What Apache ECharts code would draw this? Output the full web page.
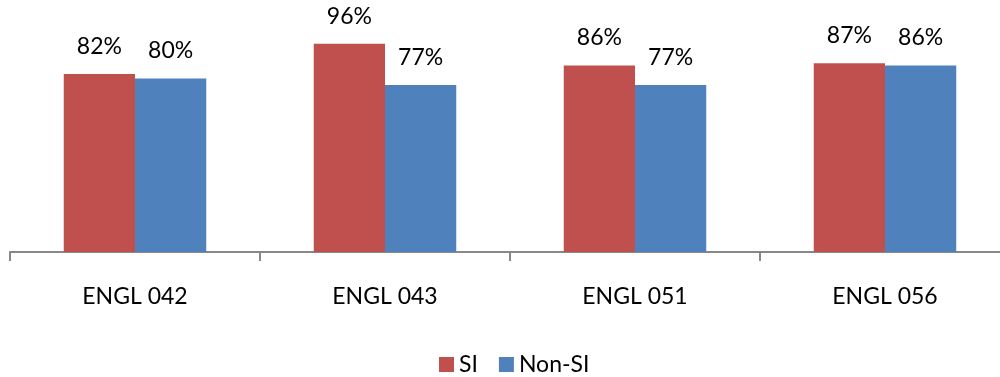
<!DOCTYPE html>
<html>
<head>
<meta charset="utf-8">
<script src="https://cdn.jsdelivr.net/npm/echarts@6/dist/echarts.min.js"></script>
<style>html,body{margin:0;padding:0;background:#fff;overflow:hidden;width:1000px;height:377px}#c{width:1010px;height:377px}</style>
</head>
<body>
<div id="c"></div>
<script>
const categories = ['ENGL 042', 'ENGL 043', 'ENGL 051', 'ENGL 056'];
const siValues = [82, 96, 86, 87];
const nonSiValues = [80, 77, 77, 86];
const seriesNames = ['SI', 'Non-SI'];

const font = 'Lato, "Open Sans", sans-serif';
const chart = echarts.init(document.getElementById('c'), null, {renderer: 'canvas'});
const labelCfg = {show: true, position: 'top', distance: 16, formatter: '{c}%', color: '#000', fontSize: 23, fontFamily: font};
chart.setOption({
  animation: false,
  grid: {left: 10, right: 0, top: 35, bottom: 125, containLabel: false},
  legend: {
    top: 348, left: 434, itemWidth: 15, itemHeight: 15, itemGap: 21, icon: 'rect',
    textStyle: {fontSize: 23, fontFamily: font, color: '#000'},
    data: seriesNames
  },
  xAxis: {
    type: 'category', data: categories,
    axisLine: {lineStyle: {color: '#888', width: 2}},
    axisTick: {show: true, length: 9, lineStyle: {color: '#888', width: 2}},
    axisLabel: {fontSize: 23, fontFamily: font, color: '#000', margin: 33}
  },
  yAxis: {type: 'value', min: 0, max: 100, show: false, splitLine: {show: false}},
  series: [
    {name: seriesNames[0], type: 'bar', data: siValues, barGap: '0%', barCategoryGap: '43%',
     itemStyle: {color: '#C0504D'}, label: labelCfg},
    {name: seriesNames[1], type: 'bar', data: nonSiValues,
     itemStyle: {color: '#4F81BD'}, label: labelCfg}
  ]
});
</script>
</body>
</html>
